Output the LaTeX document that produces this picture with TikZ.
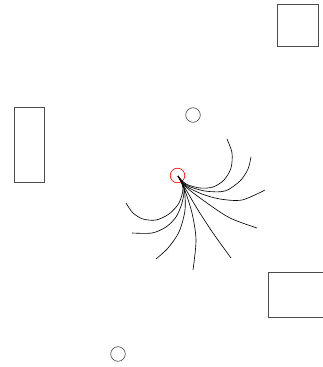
\documentclass[tikz,border=0pt]{standalone}
\usepackage{tikz}
\usetikzlibrary{calc}

\begin{document}
\begin{tikzpicture}[
    x=0.05cm,
    y=-0.05cm,
    wall/.style={draw=black!70, line width=0.9pt},
    post/.style={draw=black!70, line width=0.9pt},
    src/.style={draw=red, line width=0.9pt},
    ray/.style={draw=black, line width=0.9pt}
]
\useasboundingbox (0,0) rectangle (323,367);

% --- Walls ---
\draw[wall] (277,4) rectangle (318,46);
\draw[wall] (14,107) rectangle (44,182);
\draw[wall] (323,272) -- (268,272) -- (268,317) -- (323,317);

% --- Posts ---
\draw[post] (193,115) circle (7.3);
\draw[post] (118,354) circle (7.3);

% --- Source ---
\draw[src] (177.5,175.5) circle (7.3);
\coordinate (o) at (178,176);

% --- Rays ---
\draw[ray] plot[smooth] coordinates
{(o) (186,184) (200,188) (213,187) (224,180) (231,168) (232,153) (227,139)};
\draw[ray] plot[smooth] coordinates
{(o) (186,185) (205,191) (225,191) (240,181) (248,169) (251,157)};
\draw[ray] plot[smooth] coordinates
{(o) (186,186) (202,194) (220,199) (242,200) (265,190)};
\draw[ray] plot[smooth] coordinates
{(o) (186,187) (207,203) (230,218) (257,228)};
\draw[ray] plot[smooth] coordinates
{(o) (185,188) (198,210) (213,233) (231,258)};
\draw[ray] plot[smooth] coordinates
{(o) (184,188) (192,213) (196,240) (193,270)};
\draw[ray] plot[smooth] coordinates
{(o) (184,188) (185,210) (179,232) (168,248) (156,259)};
\draw[ray] plot[smooth] coordinates
{(o) (184,188) (182,203) (176,217) (166,227) (152,233) (132,233)};
\draw[ray] plot[smooth] coordinates
{(o) (183,188) (179,203) (169,214) (156,220) (143,219) (133,213) (126,203)};
\end{tikzpicture}
\end{document}
